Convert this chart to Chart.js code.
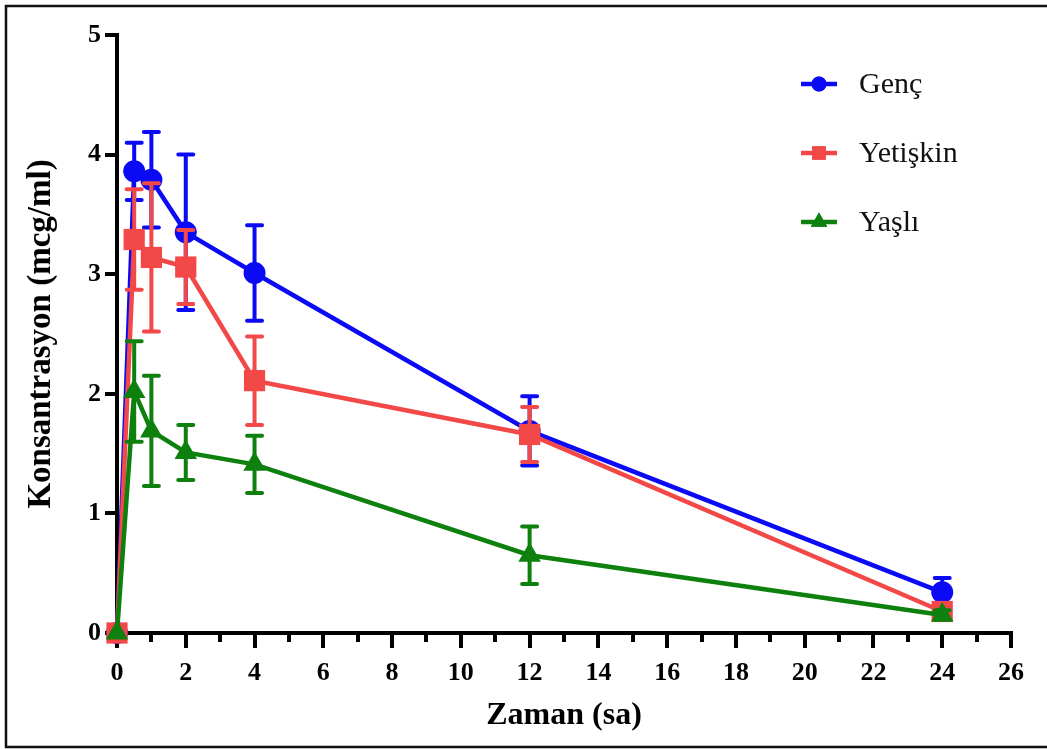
<!DOCTYPE html>
<html>
<head>
<meta charset="utf-8">
<script src="https://cdn.jsdelivr.net/npm/chart.js@4"></script>
<style>
    body { margin: 0; background: #fff; }
    #wrap { width: 1047px; height: 749px; }
</style>
</head>
<body>
<div id="wrap"><canvas id="pkChart" width="1047" height="749"></canvas></div>
<script>
// Sampling times (hours) and mean concentration +/- SD per age group
const times = [0, 0.5, 1, 2, 4, 12, 24];
const groupNames = ['Genç', 'Yetişkin', 'Yaşlı'];

const gencMean = [0, 3.86, 3.79, 3.35, 3.01, 1.69, 0.34];
const gencErr  = [0, 0.24, 0.40, 0.65, 0.40, 0.29, 0.12];
const yetiskinMean = [0, 3.29, 3.14, 3.06, 2.11, 1.66, 0.18];
const yetiskinErr  = [0, 0.42, 0.62, 0.31, 0.37, 0.23, 0.06];
const yasliMean = [0, 2.02, 1.69, 1.51, 1.41, 0.65, 0.15];
const yasliErr  = [0, 0.42, 0.46, 0.23, 0.24, 0.24, 0.04];

const xTicks = [0, 2, 4, 6, 8, 10, 12, 14, 16, 18, 20, 22, 24, 26];
const xMinorTicks = [1, 3, 5, 7, 9, 11, 13, 15, 17, 19, 21, 23, 25];
const yTicks = [0, 1, 2, 3, 4, 5];

const serif = "'Liberation Serif', 'Times New Roman', serif";
const colors = ['#0a0af5', '#f24848', '#0e800e'];
const pointStyles = ['circle', 'rect', 'triangle'];
const pointRadii = [11, 15, 13];

function toPoints(means) {
    return times.map((t, i) => ({ x: t, y: means[i] }));
}

const means = [gencMean, yetiskinMean, yasliMean];
const errors = [gencErr, yetiskinErr, yasliErr];

const datasets = groupNames.map((name, i) => ({
    label: name,
    data: toPoints(means[i]),
    errors: errors[i],
    borderColor: colors[i],
    backgroundColor: colors[i],
    borderWidth: 4.5,
    pointStyle: pointStyles[i],
    pointRadius: pointRadii[i],
    pointBorderWidth: 0,
    tension: 0,
    clip: false,
    order: 3 - i
}));

// vertical SD bars with caps, drawn just before each dataset
const errorBars = {
    id: 'errorBars',
    beforeDatasetDraw(chart, args) {
        const ds = chart.data.datasets[args.index];
        const x = chart.scales.x, y = chart.scales.y;
        const ctx = chart.ctx;
        ctx.save();
        ctx.strokeStyle = ds.borderColor;
        ctx.lineWidth = 4;
        ctx.lineCap = 'round';
        ds.data.forEach((p, i) => {
            const e = ds.errors[i];
            if (!e) return;
            const px = x.getPixelForValue(p.x);
            const top = y.getPixelForValue(p.y + e);
            const bot = y.getPixelForValue(p.y - e);
            ctx.beginPath();
            ctx.moveTo(px, top); ctx.lineTo(px, bot);
            ctx.moveTo(px - 7.5, top); ctx.lineTo(px + 7.5, top);
            ctx.moveTo(px - 7.5, bot); ctx.lineTo(px + 7.5, bot);
            ctx.stroke();
        });
        ctx.restore();
    }
};

// short unlabeled ticks between the labelled x ticks
const minorTicks = {
    id: 'minorTicks',
    afterDraw(chart) {
        const x = chart.scales.x;
        const ctx = chart.ctx;
        const base = chart.chartArea.bottom;
        ctx.save();
        ctx.strokeStyle = '#000';
        ctx.lineWidth = 4;
        xMinorTicks.forEach(v => {
            const px = Math.round(x.getPixelForValue(v));
            ctx.beginPath();
            ctx.moveTo(px, base);
            ctx.lineTo(px, base + 9);
            ctx.stroke();
        });
        ctx.restore();
    }
};

// legend in the upper right corner plus the outer frame
const cornerLegend = {
    id: 'cornerLegend',
    afterDraw(chart) {
        const ctx = chart.ctx;
        const rows = [84, 153, 222];
        const legendRadii = [7.5, 9.5, 9.5];
        ctx.save();
        chart.data.datasets.forEach((ds, i) => {
            const y = rows[i];
            ctx.strokeStyle = ds.borderColor;
            ctx.lineWidth = 4.5;
            ctx.beginPath();
            ctx.moveTo(801, y);
            ctx.lineTo(837, y);
            ctx.stroke();
            ctx.fillStyle = ds.backgroundColor;
            Chart.helpers.drawPoint(ctx, {
                pointStyle: ds.pointStyle,
                radius: legendRadii[i],
                rotation: 0,
                borderWidth: 0
            }, 819, y);
            ctx.fill();
            ctx.fillStyle = '#111';
            ctx.font = '30px ' + serif;
            ctx.textBaseline = 'middle';
            ctx.textAlign = 'left';
            ctx.fillText(ds.label, 859, y + 1);
        });
        ctx.strokeStyle = '#111';
        ctx.lineWidth = 2.5;
        ctx.strokeRect(6, 6, 1060, 741);
        ctx.restore();
    }
};

new Chart(document.getElementById('pkChart').getContext('2d'), {
    type: 'line',
    data: { datasets: datasets },
    options: {
        responsive: false,
        animation: false,
        layout: { padding: { top: 35, right: 36, left: 0, bottom: 0 } },
        plugins: {
            legend: { display: false },
            tooltip: { enabled: false }
        },
        scales: {
            x: {
                type: 'linear',
                min: 0,
                max: 26,
                afterBuildTicks: scale => {
                    scale.ticks = xTicks.map(v => ({ value: v }));
                },
                afterFit: scale => {
                    scale.height = 116;
                    scale.paddingLeft = 0;
                    scale.paddingRight = 0;
                },
                border: { display: true, color: '#000', width: 4 },
                grid: {
                    drawOnChartArea: false,
                    drawTicks: true,
                    tickLength: 15,
                    color: '#000',
                    lineWidth: 4
                },
                ticks: {
                    color: '#000',
                    padding: 10,
                    maxRotation: 0,
                    autoSkip: false,
                    font: { family: serif, size: 26, weight: 'bold' }
                },
                title: {
                    display: true,
                    text: 'Zaman (sa)',
                    color: '#000',
                    padding: { top: 0, bottom: 14 },
                    font: { family: serif, size: 32, weight: 'bold' }
                }
            },
            y: {
                type: 'linear',
                min: 0,
                max: 5,
                afterBuildTicks: scale => {
                    scale.ticks = yTicks.map(v => ({ value: v }));
                },
                afterFit: scale => {
                    scale.width = 117;
                    scale.paddingTop = 0;
                    scale.paddingBottom = 0;
                },
                border: { display: true, color: '#000', width: 4 },
                grid: {
                    drawOnChartArea: false,
                    drawTicks: true,
                    tickLength: 12,
                    color: '#000',
                    lineWidth: 4
                },
                ticks: {
                    color: '#000',
                    padding: 4,
                    font: { family: serif, size: 26, weight: 'bold' }
                },
                title: {
                    display: true,
                    text: 'Konsantrasyon (mcg/ml)',
                    color: '#000',
                    padding: { top: 22, bottom: 0 },
                    font: { family: serif, size: 33, weight: 'bold' }
                }
            }
        }
    },
    plugins: [errorBars, minorTicks, cornerLegend]
});
</script>
</body>
</html>
